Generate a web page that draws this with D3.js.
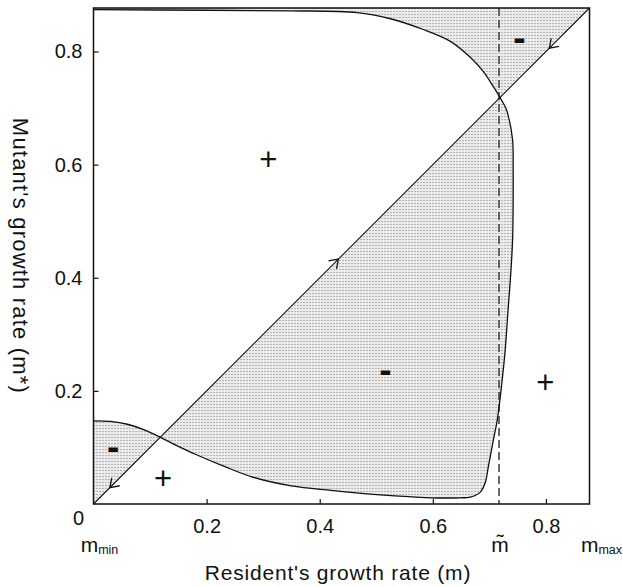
<!DOCTYPE html>
<html lang="en">
<head>
  <meta charset="utf-8">
  <title>Pairwise invasibility plot</title>
  <script src="https://d3js.org/d3.v7.min.js"></script>
  <style>
    body { margin: 0; background: #fff; }
    svg text { font-family: "Liberation Sans", Arial, sans-serif; fill: #111; }
    .tick line { stroke: #111; stroke-width: 1.2; }
  </style>
</head>
<body>
  <div id="chart"></div>

  <script>
    "use strict"

    // dados
    var mMax = 0.877;
    var mTilde = 0.717;
    var xTicks = [0.2, 0.4, 0.6, 0.8];
    var yTicks = [0.2, 0.4, 0.6, 0.8];

    // curva de fitness zero (m, m*), da esquerda em cima ate a esquerda em baixo
    var curvaM = [0, 0.2, 0.348, 0.466, 0.525, 0.583, 0.631, 0.667, 0.689, 0.707, 0.718,
                  0.729, 0.733, 0.741, 0.742, 0.742, 0.741, 0.737, 0.733, 0.728, 0.722,
                  0.714, 0.707, 0.698, 0.693, 0.684, 0.666, 0.649, 0.596, 0.507, 0.42,
                  0.35, 0.28, 0.23, 0.18, 0.15, 0.12, 0.09, 0.06, 0.03, 0];
    var curvaMstar = [0.874, 0.873, 0.872, 0.869, 0.858, 0.839, 0.818, 0.789, 0.765, 0.738, 0.720,
                      0.700, 0.688, 0.644, 0.591, 0.538, 0.467, 0.396, 0.343, 0.273, 0.214,
                      0.149, 0.113, 0.065, 0.039, 0.021, 0.012, 0.011, 0.011, 0.016, 0.024,
                      0.032, 0.048, 0.067, 0.088, 0.102, 0.117, 0.131, 0.141, 0.146, 0.147];

    var setasPos = [0.433, 0.806, 0.029];
    var setasDir = [1, -1, -1];

    var sinais = ["+", "-", "-", "+", "-", "+"];
    var sinaisM = [0.309, 0.753, 0.516, 0.799, 0.035, 0.123];
    var sinaisMstar = [0.609, 0.825, 0.237, 0.216, 0.101, 0.046];

    var larguraSVG = 623, alturaSVG = 587;
    var margin = {top: 8, left: 93.5},
        lado = 496;

    var x = d3.scaleLinear().domain([0, mMax]).range([0, lado]);
    var y = d3.scaleLinear().domain([0, mMax]).range([lado, 0]);

    var svg = d3.select('#chart').append('svg')
      .attr('width', larguraSVG)
      .attr('height', alturaSVG);

    // textura pontilhada
    var pat = svg.append('defs').append('pattern')
      .attr('id', 'pontos')
      .attr('patternUnits', 'userSpaceOnUse')
      .attr('width', 3).attr('height', 3);
    pat.append('rect').attr('width', 3).attr('height', 3).attr('fill', '#ebebeb');
    pat.append('rect').attr('width', 1).attr('height', 1).attr('fill', '#7e7e7e');

    var g = svg.append('g')
      .attr('transform', 'translate(' + margin.left + ',' + margin.top + ')');

    var pontos = curvaM.map((m, i) => [m, curvaMstar[i]]);
    var linha = d3.line()
      .x(d => x(d[0]))
      .y(d => y(d[1]))
      .curve(d3.curveCatmullRom);

    // regiao sombreada = (dentro da curva) XOR (acima da diagonal)
    var triangulo = 'M' + x(0) + ',' + y(0) + 'L' + x(0) + ',' + y(mMax) +
                    'L' + x(mMax) + ',' + y(mMax) + 'Z';
    var fechada = linha(pontos) + 'L' + x(0) + ',' + y(curvaMstar[0]) + 'Z';

    g.append('path')
      .attr('d', triangulo + fechada)
      .attr('fill', 'url(#pontos)')
      .attr('fill-rule', 'evenodd');

    // linha tracejada em m~
    g.append('line')
      .attr('x1', x(mTilde)).attr('x2', x(mTilde))
      .attr('y1', y(mMax)).attr('y2', y(0))
      .attr('stroke', '#444')
      .attr('stroke-width', 1.6)
      .attr('stroke-dasharray', '8,4');

    // diagonal
    g.append('line')
      .attr('x1', x(0)).attr('y1', y(0))
      .attr('x2', x(mMax)).attr('y2', y(mMax))
      .attr('stroke', '#111')
      .attr('stroke-width', 1.1);

    g.append('path')
      .attr('d', linha(pontos))
      .attr('fill', 'none')
      .attr('stroke', '#111')
      .attr('stroke-width', 1.3);

    // setas na diagonal
    setasPos.forEach(function(p, i) {
      var cx = x(p), cy = y(p);
      var ang = Math.atan2(-setasDir[i], setasDir[i]) + Math.PI; // direcao para tras
      var comp = 10, abre = 0.6;
      var d = 'M' + (cx + comp * Math.cos(ang - abre)) + ',' + (cy + comp * Math.sin(ang - abre)) +
              'L' + cx + ',' + cy +
              'L' + (cx + comp * Math.cos(ang + abre)) + ',' + (cy + comp * Math.sin(ang + abre));
      g.append('path').attr('d', d)
        .attr('fill', 'none').attr('stroke', '#111').attr('stroke-width', 1.3);
    });

    // sinais + e -  (rotacao minima evita as franjas coloridas do antialiasing)
    g.selectAll('text.sinal')
      .data(sinais)
      .enter()
        .append('text')
          .attr('class', 'sinal')
          .attr('x', (s, i) => x(sinaisM[i]))
          .attr('y', (s, i) => y(sinaisMstar[i]))
          .attr('transform', (s, i) => 'rotate(0.01,' + x(sinaisM[i]) + ',' + y(sinaisMstar[i]) + ')')
          .attr('dy', s => s == '+' ? '0.35em' : '0.33em')
          .attr('text-anchor', 'middle')
          .style('font-size', s => s == '+' ? '31px' : '37px')
          .style('font-weight', s => s == '+' ? 'normal' : 'bold')
          .text(s => s);

    // moldura
    g.append('rect')
      .attr('width', lado).attr('height', lado)
      .attr('fill', 'none')
      .attr('stroke', '#111')
      .attr('stroke-width', 1.5);

    // eixos com ticks para dentro
    var eixoX = g.append('g')
      .attr('transform', 'translate(0,' + lado + ')')
      .call(d3.axisBottom(x).tickValues(xTicks).tickSize(-5).tickPadding(15).tickFormat(d3.format('.1f')));
    var eixoY = g.append('g')
      .call(d3.axisLeft(y).tickValues(yTicks).tickSize(-5).tickPadding(11).tickFormat(d3.format('.1f')));
    [eixoX, eixoY].forEach(function(e) {
      e.select('.domain').remove();
      e.selectAll('text').style('font-size', '20px').attr('fill', '#111');
    });

    g.append('text')
      .attr('x', -15).attr('y', lado + 21)
      .attr('text-anchor', 'middle')
      .style('font-size', '20px')
      .text('0');

    // rotulos m_min, m~, m_max
    function rotuloM(px, sub) {
      var t = g.append('text')
        .attr('x', px).attr('y', lado + 48)
        .attr('text-anchor', 'middle')
        .style('font-size', '21px');
      t.append('tspan').text('m');
      if (sub) t.append('tspan').attr('dy', 2).style('font-size', '12.5px').text(sub);
    }
    rotuloM(x(0) + 6, 'min');
    rotuloM(x(mMax) + 12, 'max');
    g.append('text')
      .attr('x', x(mTilde) + 1).attr('y', lado + 48)
      .attr('text-anchor', 'middle')
      .style('font-size', '21px')
      .text('m\u0303');

    // titulos
    svg.append('text')
      .attr('x', 338).attr('y', 580)
      .attr('text-anchor', 'middle')
      .style('font-size', '21px')
      .style('letter-spacing', '0.8px')
      .text("Resident's growth rate (m)");

    svg.append('text')
      .attr('transform', 'translate(13,256) rotate(90)')
      .attr('text-anchor', 'middle')
      .style('font-size', '22px')
      .style('letter-spacing', '1.2px')
      .text("Mutant's growth rate (m*)");
  </script>
</body>
</html>
